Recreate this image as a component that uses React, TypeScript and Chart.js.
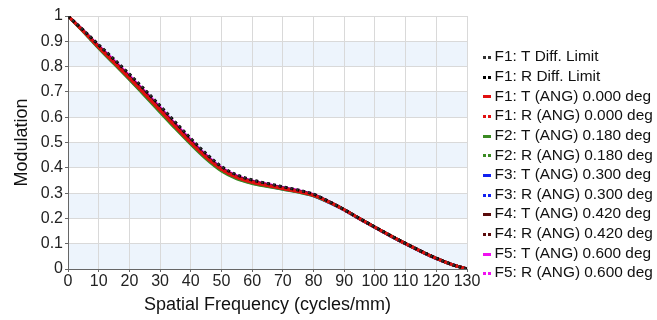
import React, { useEffect, useRef } from "react";
import { Chart, registerables } from "chart.js";

Chart.register(...registerables);

const FREQUENCIES = [0, 5, 10, 15, 20, 25, 30, 35, 40, 45, 50, 55, 60, 65, 70, 75, 80, 85, 90, 95, 100, 105, 110, 115, 120, 125, 130];

const F1_T_DIFF = [1, 0.944, 0.886, 0.829, 0.77, 0.709, 0.645, 0.58, 0.516, 0.456, 0.405, 0.372, 0.352, 0.338, 0.325, 0.312, 0.296, 0.267, 0.235, 0.2, 0.166, 0.133, 0.101, 0.071, 0.043, 0.018, 0];
const F1_R_DIFF = [1, 0.944, 0.886, 0.829, 0.77, 0.709, 0.645, 0.58, 0.516, 0.456, 0.405, 0.372, 0.352, 0.338, 0.325, 0.312, 0.296, 0.267, 0.235, 0.2, 0.166, 0.133, 0.101, 0.071, 0.043, 0.018, 0];
const F1_T = [1, 0.94, 0.877, 0.816, 0.755, 0.692, 0.628, 0.563, 0.5, 0.442, 0.394, 0.362, 0.343, 0.33, 0.318, 0.306, 0.291, 0.265, 0.234, 0.199, 0.165, 0.132, 0.1, 0.07, 0.042, 0.018, 0];
const F1_R = [1, 0.94, 0.877, 0.816, 0.755, 0.692, 0.628, 0.563, 0.5, 0.442, 0.394, 0.362, 0.343, 0.33, 0.318, 0.306, 0.291, 0.265, 0.234, 0.199, 0.165, 0.132, 0.1, 0.07, 0.042, 0.018, 0];
const F2_T = [1, 0.938, 0.873, 0.811, 0.749, 0.685, 0.62, 0.555, 0.493, 0.435, 0.387, 0.356, 0.338, 0.326, 0.315, 0.304, 0.289, 0.264, 0.234, 0.199, 0.165, 0.132, 0.1, 0.07, 0.042, 0.018, 0];
const F2_R = [1, 0.939, 0.876, 0.815, 0.754, 0.69, 0.626, 0.561, 0.498, 0.44, 0.391, 0.36, 0.341, 0.329, 0.317, 0.305, 0.29, 0.265, 0.234, 0.199, 0.165, 0.132, 0.1, 0.07, 0.042, 0.018, 0];
const F3_T = [1, 0.939, 0.875, 0.813, 0.751, 0.687, 0.623, 0.558, 0.496, 0.438, 0.39, 0.359, 0.34, 0.328, 0.316, 0.305, 0.289, 0.263, 0.233, 0.198, 0.164, 0.131, 0.099, 0.069, 0.041, 0.018, 0];
const F3_R = [1, 0.94, 0.877, 0.816, 0.756, 0.693, 0.629, 0.564, 0.502, 0.444, 0.395, 0.363, 0.344, 0.331, 0.319, 0.307, 0.292, 0.265, 0.234, 0.199, 0.165, 0.132, 0.1, 0.07, 0.042, 0.018, 0];
const F4_T = [1, 0.941, 0.879, 0.819, 0.759, 0.697, 0.633, 0.568, 0.505, 0.446, 0.397, 0.365, 0.346, 0.333, 0.32, 0.308, 0.293, 0.266, 0.234, 0.199, 0.165, 0.132, 0.1, 0.07, 0.042, 0.018, 0];
const F4_R = [1, 0.94, 0.878, 0.817, 0.757, 0.694, 0.63, 0.565, 0.502, 0.443, 0.395, 0.363, 0.344, 0.331, 0.319, 0.307, 0.292, 0.265, 0.234, 0.199, 0.165, 0.132, 0.1, 0.07, 0.042, 0.018, 0];
const F5_T = [1, 0.942, 0.882, 0.824, 0.764, 0.702, 0.638, 0.573, 0.51, 0.45, 0.4, 0.368, 0.348, 0.335, 0.322, 0.31, 0.294, 0.266, 0.234, 0.199, 0.165, 0.132, 0.1, 0.07, 0.042, 0.018, 0];
const F5_R = [1, 0.941, 0.88, 0.821, 0.761, 0.699, 0.635, 0.57, 0.507, 0.448, 0.398, 0.366, 0.347, 0.334, 0.321, 0.309, 0.293, 0.266, 0.234, 0.199, 0.165, 0.132, 0.1, 0.07, 0.042, 0.018, 0];

const SERIES_LABELS = [
  "F1: T Diff. Limit",
  "F1: R Diff. Limit",
  "F1: T (ANG) 0.000 deg",
  "F1: R (ANG) 0.000 deg",
  "F2: T (ANG) 0.180 deg",
  "F2: R (ANG) 0.180 deg",
  "F3: T (ANG) 0.300 deg",
  "F3: R (ANG) 0.300 deg",
  "F4: T (ANG) 0.420 deg",
  "F4: R (ANG) 0.420 deg",
  "F5: T (ANG) 0.600 deg",
  "F5: R (ANG) 0.600 deg",
];
const SERIES_VALUES = [F1_T_DIFF, F1_R_DIFF, F1_T, F1_R, F2_T, F2_R, F3_T, F3_R, F4_T, F4_R, F5_T, F5_R];

const X_TICKS = [0, 10, 20, 30, 40, 50, 60, 70, 80, 90, 100, 110, 120, 130];
const Y_TICKS = [0, 0.1, 0.2, 0.3, 0.4, 0.5, 0.6, 0.7, 0.8, 0.9, 1];

const STYLES = [
  { color: "#333333", dash: [2, 4], width: 2 },
  { color: "#000000", dash: [3, 3], width: 3 },
  { color: "#e01010", dash: [], width: 3 },
  { color: "#e01010", dash: [2, 2], width: 3 },
  { color: "#3a8a22", dash: [], width: 3 },
  { color: "#3a8a22", dash: [2, 2], width: 3 },
  { color: "#1020f0", dash: [], width: 3 },
  { color: "#1020f0", dash: [2, 2], width: 3 },
  { color: "#5a0a0a", dash: [], width: 3 },
  { color: "#5a0a0a", dash: [2, 2], width: 3 },
  { color: "#f010f0", dash: [], width: 3 },
  { color: "#f010f0", dash: [2, 2], width: 3 },
];

const FONT = "'Liberation Sans', Arial, sans-serif";

const bandPlugin = {
  id: "bands",
  beforeDraw(chart: any) {
    const { ctx, chartArea } = chart;
    const y = chart.scales.y;
    ctx.save();
    ctx.fillStyle = "#edf4fc";
    for (let i = 0; i < 10; i += 2) {
      const top = y.getPixelForValue(Y_TICKS[i + 1]);
      const bottom = y.getPixelForValue(Y_TICKS[i]);
      ctx.fillRect(chartArea.left, top, chartArea.right - chartArea.left, bottom - top);
    }
    ctx.restore();
  },
};

const legendPlugin = {
  id: "sideLegend",
  afterDraw(chart: any) {
    const { ctx } = chart;
    ctx.save();
    ctx.font = `15.4px ${FONT}`;
    ctx.textBaseline = "middle";
    ctx.textAlign = "left";
    chart.data.datasets.forEach((ds: any, i: number) => {
      const y = 57 + i * 19.65;
      ctx.strokeStyle = ds.borderColor;
      ctx.lineWidth = 3;
      ctx.setLineDash(ds.borderDash && ds.borderDash.length ? [3, 2] : []);
      ctx.beginPath();
      ctx.moveTo(483, Math.round(y) + 0.5);
      ctx.lineTo(491, Math.round(y) + 0.5);
      ctx.stroke();
      ctx.setLineDash([]);
      ctx.fillStyle = "#111111";
      ctx.fillText(ds.label, 494.5, y);
    });
    ctx.restore();
  },
};

export default function App() {
  const canvasRef = useRef<HTMLCanvasElement | null>(null);

  useEffect(() => {
    const canvas = canvasRef.current;
    if (!canvas) return;
    const datasets = SERIES_VALUES.map((vals, i) => ({
      label: SERIES_LABELS[i],
      data: FREQUENCIES.map((f, j) => ({ x: f, y: vals[j] })),
      borderColor: STYLES[i].color,
      backgroundColor: STYLES[i].color,
      borderDash: STYLES[i].dash,
      borderWidth: STYLES[i].width,
      pointRadius: 0,
      cubicInterpolationMode: "monotone" as const,
      fill: false,
    }));
    const chart = new Chart(canvas, {
      type: "line",
      data: { datasets },
      plugins: [bandPlugin, legendPlugin],
      options: {
        responsive: false,
        animation: false,
        layout: { padding: { left: 0, right: 190, top: 16, bottom: 0 } },
        plugins: { legend: { display: false }, tooltip: { enabled: false } },
        scales: {
          x: {
            type: "linear",
            min: 0,
            max: 130,
            afterBuildTicks(scale: any) {
              scale.ticks = X_TICKS.map((v) => ({ value: v }));
            },
            afterFit(scale: any) {
              scale.height = 51;
            },
            ticks: {
              color: "#222222",
              font: { size: 16, family: FONT },
              padding: 0,
              maxRotation: 0,
              autoSkip: false,
              callback: (v: any) => String(v),
            },
            grid: { color: "#d9d9d9", tickColor: "#666666", tickLength: 3, lineWidth: 1 },
            border: { color: "#666666", width: 1 },
            title: {
              display: true,
              text: "Spatial Frequency (cycles/mm)",
              color: "#111111",
              font: { size: 18, family: FONT },
              padding: { top: 0, bottom: 4 },
            },
          },
          y: {
            type: "linear",
            min: 0,
            max: 1,
            afterBuildTicks(scale: any) {
              scale.ticks = Y_TICKS.map((v) => ({ value: v }));
            },
            afterFit(scale: any) {
              scale.width = 68;
            },
            ticks: {
              color: "#222222",
              font: { size: 16, family: FONT },
              padding: 2,
              autoSkip: false,
              callback: (v: any) => String(Number(Number(v).toFixed(1))),
            },
            grid: { color: "#d9d9d9", tickColor: "#666666", tickLength: 3, lineWidth: 1 },
            border: { color: "#666666", width: 1 },
            title: {
              display: true,
              text: "Modulation",
              color: "#111111",
              font: { size: 18, family: FONT },
              padding: { top: 11, bottom: 0 },
            },
          },
        },
      },
    });
    return () => chart.destroy();
  }, []);

  return (
    <div style={{ position: "fixed", left: 0, top: 0, width: 657, height: 320, background: "#ffffff" }}>
      <canvas ref={canvasRef} width={657} height={320} style={{ width: 657, height: 320 }} />
    </div>
  );
}
